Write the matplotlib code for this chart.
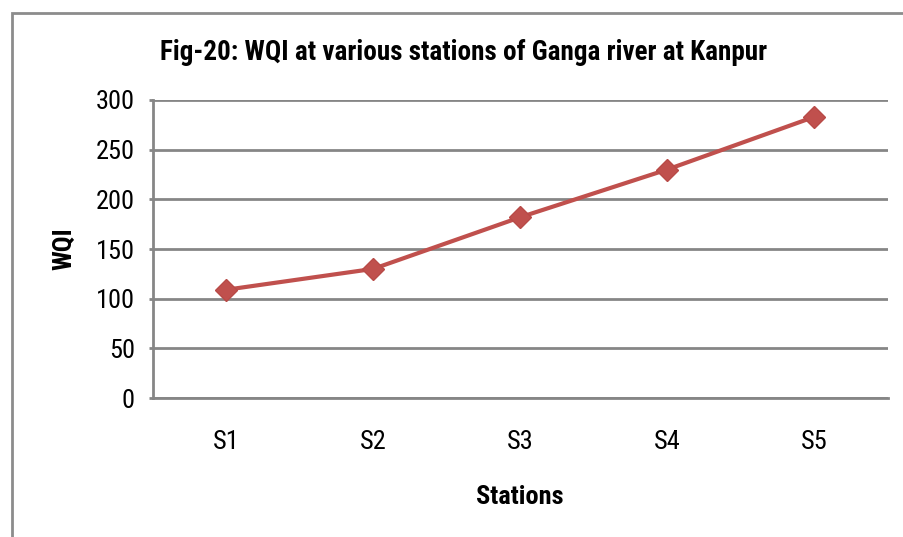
import matplotlib
matplotlib.use("Agg")
import matplotlib.pyplot as plt
from matplotlib import font_manager
from matplotlib.patches import Rectangle

# datos
estaciones = ["S1", "S2", "S3", "S4", "S5"]
wqi = [109, 130, 182, 230, 283]
yticks = [0, 50, 100, 150, 200, 250, 300]

# buscar una fuente estrecha parecida a Calibri
nombres = {f.name for f in font_manager.fontManager.ttflist}
familia = 'DejaVu Sans'
for cand in ['Liberation Sans Narrow', 'Roboto Condensed', 'Open Sans Condensed', 'DejaVu Sans Condensed']:
    if cand in nombres:
        familia = cand
        break
plt.rcParams['font.family'] = [familia, 'DejaVu Sans']
plt.rcParams['font.stretch'] = 'condensed'

fig = plt.figure(figsize=(9.04, 5.37), dpi=100)
ax = fig.add_axes([0.169, 0.2588, 0.813, 0.555])

# marco exterior gris (sale por la derecha y abajo)
fig.patches.append(Rectangle((12 / 904, -0.1), 1.2, 1.1 - 13 / 537,
                             transform=fig.transFigure, fill=False,
                             edgecolor="#8c8c8c", linewidth=2))

x = list(range(len(estaciones)))
ax.plot(x, wqi, color="#C0504D", linewidth=3, marker="D", markersize=11,
        markeredgecolor="#B84A47", zorder=3)

ax.set_xlim(-0.5, len(estaciones) - 0.5)
ax.set_ylim(0, 300)
ax.set_yticks(yticks)
ax.set_xticks(x)
ax.set_xticklabels(estaciones)

ax.grid(axis="y", color="#868686", linewidth=2)
ax.set_axisbelow(True)
for lado in ["top", "right"]:
    ax.spines[lado].set_visible(False)
ax.spines["left"].set_color("#868686")
ax.spines["left"].set_linewidth(2)
ax.spines["bottom"].set_color("#868686")
ax.spines["bottom"].set_linewidth(2)

ax.tick_params(axis="y", length=3, width=2, color="#868686", labelsize=19, pad=10)
ax.tick_params(axis="x", length=0, labelsize=19, pad=23)

fig.text(464 / 904, 1 - 52 / 537, "Fig-20: WQI at various stations of Ganga river at Kanpur",
         fontsize=19.5, fontweight="bold", ha="center", va="center")
ax.set_xlabel("Stations", fontsize=19, fontweight="bold", labelpad=22)
ax.set_ylabel("WQI", fontsize=19, fontweight="bold", labelpad=14)

fig.savefig("out.png", dpi=100)
